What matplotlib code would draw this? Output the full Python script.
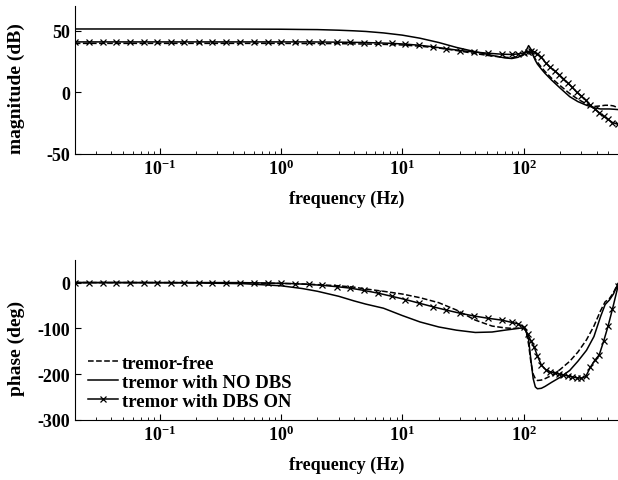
import matplotlib
matplotlib.use('Agg')
import matplotlib.pyplot as plt
from matplotlib.ticker import FixedLocator, LogLocator, NullFormatter

plt.rcParams['font.family'] = ['Liberation Serif', 'DejaVu Serif']
plt.rcParams['font.weight'] = 'bold'
plt.rcParams['axes.unicode_minus'] = False
plt.rcParams['mathtext.fontset'] = 'custom'
plt.rcParams['mathtext.rm'] = 'Liberation Serif:bold'
plt.rcParams['mathtext.bf'] = 'Liberation Serif:bold'

# frequency grid for the two plain curves (Hz)
freq = [0.02, 0.05, 0.1, 0.2, 0.5, 1, 1.5, 2, 3, 4, 5, 7, 10, 14, 20, 28, 40, 55,
        70, 80, 90, 100, 105, 110, 115, 120, 125, 130, 140, 150, 170, 200, 240,
        280, 330, 380, 430, 470, 510, 550, 600]

mag_free = [39.8, 39.8, 39.8, 39.8, 39.8, 39.8, 39.7, 39.7, 39.6, 39.4, 39.3, 39.0,
            38.5, 37.5, 36.0, 34.0, 31.5, 29.5, 28.5, 28.2, 29.0, 30.5, 31.5, 32.5,
            32.0, 30.0, 27.0, 24.5, 20.5, 17.0, 11.5, 5.5, -1.0, -5.5, -9.5, -11.5,
            -11.0, -10.5, -10.5, -11.0, -12.5]
mag_nodbs = [51.5, 51.5, 51.5, 51.5, 51.4, 51.3, 51.1, 51.0, 50.5, 50.0, 49.5, 48.3,
             46.5, 44.0, 40.5, 36.5, 33.0, 30.0, 28.0, 27.5, 28.5, 31.0, 34.0, 38.0,
             35.0, 30.0, 26.0, 23.0, 19.0, 15.5, 10.0, 3.5, -3.5, -7.5, -10.5, -12.5,
             -13.5, -13.5, -13.5, -13.7, -14.0]

ph_free = [0, 0, 0, -0.2, -0.8, -1.8, -3, -4.5, -7, -10, -14, -19, -25, -33, -44,
           -60, -82, -95, -99, -100, -100, -100, -106, -135, -175, -200, -210, -214,
           -213, -210, -203, -190, -172, -152, -125, -95, -62, -42, -35, -22, -2]
ph_nodbs = [0, 0, -0.3, -0.7, -2.5, -7, -13, -19, -30, -40, -47, -56, -72, -86, -97,
            -104, -109, -108, -104, -102, -100, -99, -105, -125, -170, -210, -228,
            -232, -231, -227, -218, -207, -192, -172, -148, -118, -75, -48, -38, -25, -2]

# the DBS ON curve carries a marker on every sample
freq_on = [0.02, 0.026, 0.034, 0.044, 0.057, 0.074, 0.096, 0.125, 0.16, 0.21, 0.27,
           0.35, 0.46, 0.6, 0.78, 1.0, 1.3, 1.7, 2.2, 2.9, 3.7, 4.8, 6.3, 8.2, 10.6,
           13.8, 18, 23, 30, 39, 51, 66, 80, 90, 100, 108, 115, 122, 130, 140, 152,
           165, 180, 196, 213, 232, 252, 275, 300, 326, 355, 386, 420, 457, 497, 540, 600]
mag_on = [41.0, 41.0, 41.0, 41.0, 41.0, 41.0, 41.0, 41.0, 41.0, 41.0, 41.0, 41.0,
          41.0, 41.0, 41.0, 41.0, 41.0, 41.0, 40.9, 40.8, 40.7, 40.5, 40.2, 39.8,
          39.2, 38.3, 37.0, 35.5, 34.0, 32.8, 31.8, 31.0, 30.8, 31.2, 32.0, 33.0,
          34.0, 33.0, 31.5, 28.5, 24.0, 20.5, 17.5, 14.5, 11.0, 7.5, 4.0, 0.0, -3.0,
          -6.5, -10.5, -13.5, -16.5, -19.5, -22.0, -24.5, -26.0]
ph_on = [0, 0, 0, 0, 0, 0, 0, 0, 0, 0, 0, 0, 0, -0.5, -1, -1.5, -2.5, -4, -6, -9,
         -12, -17, -23, -30, -37, -45, -53, -60, -67, -73, -78, -82, -87, -90, -97,
         -113, -127, -140, -160, -180, -190, -195, -197, -200, -202, -204, -206,
         -208, -209, -205, -185, -170, -158, -128, -95, -58, -8]

labels = ['tremor-free', 'tremor with NO DBS', 'tremor with DBS ON']
xticks = [0.1, 1, 10, 100]
xticklabels = [r'$\mathbf{10^{-1}}$', r'$\mathbf{10^{0}}$', r'$\mathbf{10^{1}}$', r'$\mathbf{10^{2}}$']

fig = plt.figure(figsize=(6.18, 4.81), dpi=100)
ax1 = fig.add_axes([0.121, 0.678, 0.879, 0.307])
ax2 = fig.add_axes([0.121, 0.125, 0.879, 0.333])

fs = 13


def style(ax, ylabel, label_y):
    ax.set_xscale('log')
    ax.set_xlim(0.02, 600)
    ax.spines['top'].set_visible(False)
    ax.spines['right'].set_visible(False)
    ax.xaxis.set_major_locator(FixedLocator(xticks))
    ax.set_xticklabels(xticklabels, fontsize=fs)
    ax.xaxis.set_minor_locator(LogLocator(base=10, subs=range(2, 10), numticks=20))
    ax.xaxis.set_minor_formatter(NullFormatter())
    ax.tick_params(direction='in', which='major', length=4, width=0.8, labelsize=fs)
    ax.tick_params(direction='in', which='minor', length=2, width=0.6)
    ax.set_xlabel('frequency (Hz)', fontsize=fs, fontweight='bold', labelpad=8)
    ax.set_ylabel(ylabel, fontsize=14, fontweight='bold')
    ax.yaxis.set_label_coords(-0.092, label_y)
    for lab in ax.get_yticklabels():
        lab.set_fontweight('bold')


kw = dict(color='black', linewidth=1.1)
ax1.plot(freq, mag_free, linestyle='--', **kw)
ax1.plot(freq, mag_nodbs, linestyle='-', **kw)
ax1.plot(freq_on, mag_on, linestyle='-', marker='x', markersize=5, markeredgewidth=0.9, **kw)
ax1.set_ylim(-50, 70)
ax1.set_yticks([-50, 0, 50])
style(ax1, 'magnitude (dB)', 0.45)

ax2.plot(freq, ph_free, linestyle='--', label=labels[0], **kw)
ax2.plot(freq, ph_nodbs, linestyle='-', label=labels[1], **kw)
ax2.plot(freq_on, ph_on, linestyle='-', marker='x', markersize=5, markeredgewidth=0.9,
         label=labels[2], **kw)
ax2.set_ylim(-300, 50)
ax2.set_yticks([-300, -200, -100, 0])
style(ax2, 'phase (deg)', 0.45)

leg = ax2.legend(loc='lower left', bbox_to_anchor=(0.0, -0.02), frameon=False,
                 handlelength=1.6, handletextpad=0.2, labelspacing=0.1,
                 borderaxespad=0.3, prop={'weight': 'bold', 'size': 13.5})

fig.savefig('out.png', dpi=100)
